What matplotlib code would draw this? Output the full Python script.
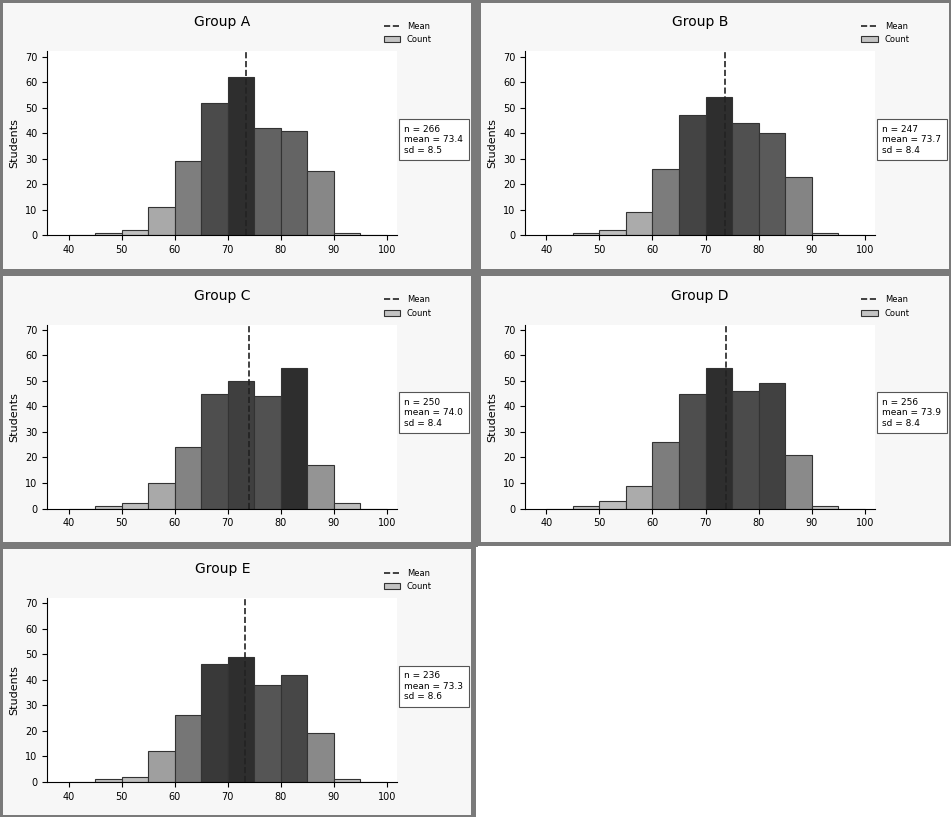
"""Five score histograms in a 3x2 grid of framed panels."""

import matplotlib.pyplot as plt
import numpy as np

# bin centres (score) shared by every panel
bins = [42.5, 47.5, 52.5, 57.5, 62.5, 67.5, 72.5, 77.5, 82.5, 87.5, 92.5, 97.5]
titles = ["Group A", "Group B", "Group C", "Group D", "Group E"]

counts_a = [0, 1, 2, 11, 29, 52, 62, 42, 41, 25, 1, 0]
counts_b = [0, 1, 2, 9, 26, 47, 54, 44, 40, 23, 1, 0]
counts_c = [0, 1, 2, 10, 24, 45, 50, 44, 55, 17, 2, 0]
counts_d = [0, 1, 3, 9, 26, 45, 55, 46, 49, 21, 1, 0]
counts_e = [0, 1, 2, 12, 26, 46, 49, 38, 42, 19, 1, 0]
all_counts = [counts_a, counts_b, counts_c, counts_d, counts_e]

plt.rcParams["font.family"] = ["DejaVu Sans"]

fig = plt.figure(figsize=(9.51, 8.17), dpi=100, facecolor="white")
subfigs = fig.subfigures(3, 2, wspace=0.01, hspace=0.01)

for i, sf in enumerate(subfigs.flat):
    if i >= len(all_counts):
        sf.set_facecolor("white")
        continue
    sf.set_facecolor("#f7f7f7")
    sf.set_edgecolor("#7a7a7a")
    sf.set_linewidth(2.5)
    counts = np.array(all_counts[i])
    ax = sf.add_axes([0.10, 0.13, 0.74, 0.68])
    ax.set_facecolor("white")
    shades = plt.cm.Greys(0.35 + 0.5 * counts / counts.max())
    ax.bar(bins, counts, width=5, color=shades, edgecolor="#333333",
           linewidth=0.8, label="Count")
    total = counts.sum()
    mean = float(np.dot(bins, counts) / total)
    ax.axvline(mean, color="#222222", lw=1.2, ls="--", label="Mean")
    ax.set_xlim(36, 102)
    ax.set_ylim(0, 72)
    ax.set_title(titles[i], fontsize=10, pad=18)
    ax.set_ylabel("Students", fontsize=8)
    ax.tick_params(labelsize=7)
    for s in ("top", "right"):
        ax.spines[s].set_visible(False)
    ax.legend(loc="upper right", bbox_to_anchor=(1.12, 1.2), fontsize=6,
              frameon=False)
    sd = float(np.sqrt(np.dot(counts, (np.array(bins) - mean) ** 2) / total))
    ax.text(1.02, 0.52, f"n = {total}\nmean = {mean:.1f}\nsd = {sd:.1f}",
            transform=ax.transAxes, fontsize=6.5, va="center", ha="left",
            bbox=dict(facecolor="white", edgecolor="#555555", lw=0.8))

fig.savefig("out.png", dpi=100)
